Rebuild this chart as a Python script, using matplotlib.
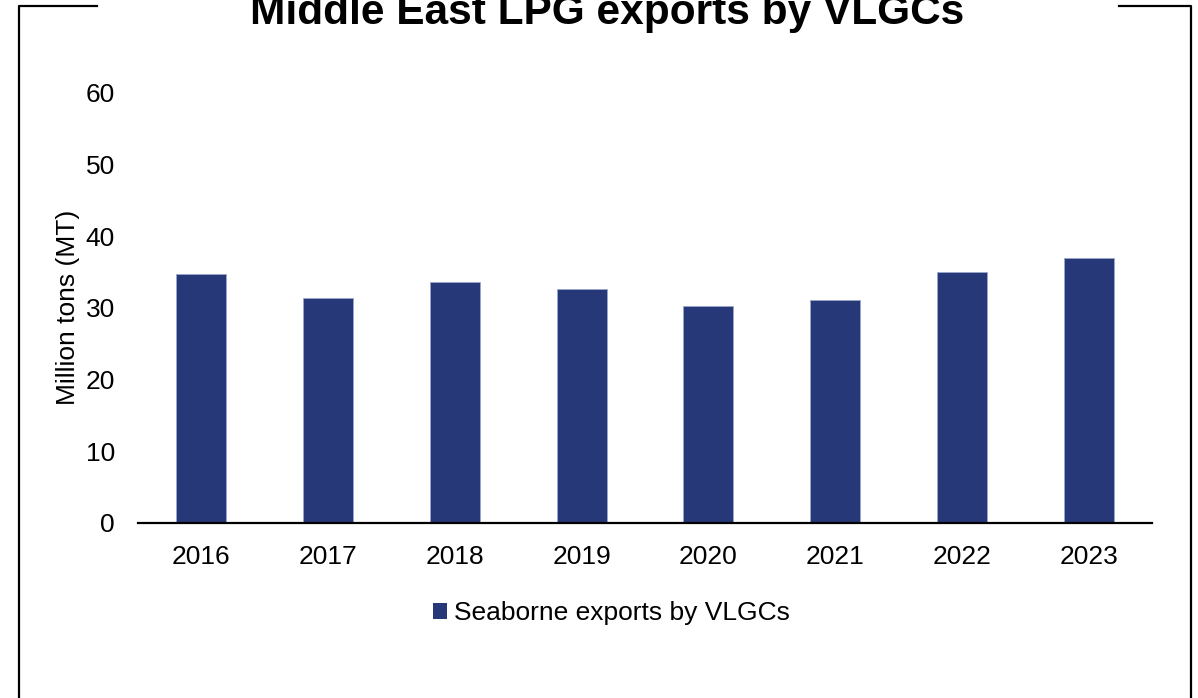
import matplotlib
matplotlib.use("Agg")
import matplotlib.pyplot as plt
import matplotlib.patches as mpatches
from matplotlib.lines import Line2D

plt.rcParams["font.family"] = ["Liberation Sans", "DejaVu Sans"]

years = ["2016", "2017", "2018", "2019", "2020", "2021", "2022", "2023"]
exports = [34.7, 31.3, 33.6, 32.6, 30.2, 31.1, 35.0, 36.9]
series_name = "Seaborne exports by VLGCs"
title = "Middle East LPG exports by VLGCs"
y_label = "Million tons (MT)"
y_ticks = [0, 10, 20, 30, 40, 50, 60]

BAR_COLOR = "#263877"
W, H = 1198, 698

fig = plt.figure(figsize=(W / 100, H / 100), dpi=100)
ax = fig.add_axes([138 / W, 1 - 522.7 / H, (1152 - 138) / W, 430 / H])

ax.bar(range(len(years)), exports, width=0.395, color=BAR_COLOR,
       edgecolor="#9aa6cc", linewidth=0.6, zorder=2)

ax.set_xlim(-0.5, len(years) - 0.5)
ax.set_ylim(0, 60)
ax.set_yticks(y_ticks)
ax.set_xticks(range(len(years)))
ax.set_xticklabels(years)

for side in ("top", "right", "left"):
    ax.spines[side].set_visible(False)
ax.spines["bottom"].set_linewidth(1.6)
ax.spines["bottom"].set_color("black")
ax.tick_params(axis="both", length=0, labelsize=19, colors="black")
ax.tick_params(axis="y", pad=16.5)
ax.tick_params(axis="x", pad=16)

ax.set_ylabel(y_label, fontsize=19)
ax.yaxis.set_label_coords(-0.057, 0.5)

handle = mpatches.Patch(facecolor=BAR_COLOR, edgecolor="none", label=series_name)
fig.legend(handles=[handle], loc="center", bbox_to_anchor=(611.5 / W, 1 - 613 / H),
           frameon=False, fontsize=19, handlelength=0.53, handleheight=0.56,
           handletextpad=0.25, borderpad=0, borderaxespad=0)

fig.text(607 / W, 1 - 24 / H, title, ha="center", va="baseline",
         fontsize=30.5, fontweight="bold")

# frame around the chart, broken at the top by the title
y_top = 1 - 6 / H
x_l, x_r = 18.5 / W, 1190.7 / W
for xs, ys in [([x_l, x_l, 97 / W], [0, y_top, y_top]),
               ([1119 / W, x_r, x_r], [y_top, y_top, 0])]:
    fig.add_artist(Line2D(xs, ys, transform=fig.transFigure,
                          color="black", linewidth=1.6))

fig.savefig("out.png", dpi=100)
